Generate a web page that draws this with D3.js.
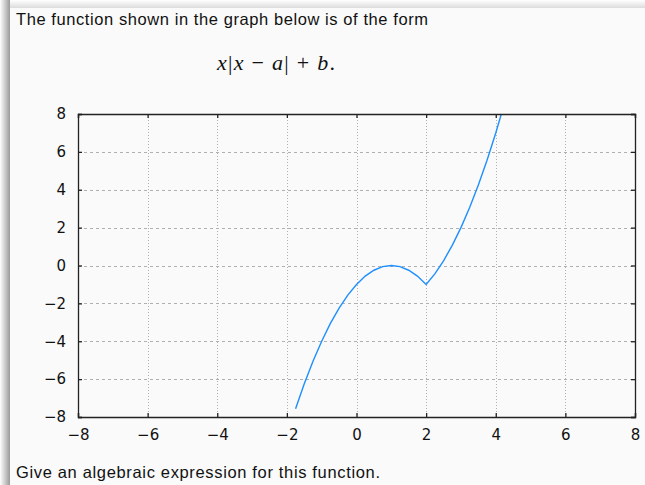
<!DOCTYPE html>
<html>
<head>
<meta charset="utf-8">
<script src="https://cdn.jsdelivr.net/npm/d3@7"></script>
<style>
  html, body { margin: 0; padding: 0; background: #ffffff; }
  svg { display: block; }
</style>
</head>
<body>
<svg id="chart" width="645" height="485"></svg>
<script>
// Sampled points of the plotted curve y = x|x - 2| - 1
const curveX = [-1.75, -1.5, -1.25, -1, -0.75, -0.5, -0.25, 0, 0.25, 0.5, 0.75, 1,
                1.25, 1.5, 1.75, 2, 2.25, 2.5, 2.75, 3, 3.25, 3.5, 3.75, 4, 4.16];
const curveY = [-7.56, -6.25, -5.06, -4, -3.06, -2.25, -1.56, -1, -0.56, -0.25, -0.06, 0,
                -0.06, -0.25, -0.56, -1, -0.44, 0.25, 1.06, 2, 3.06, 4.25, 5.56, 7, 8];
const xTicks = [-8, -6, -4, -2, 0, 2, 4, 6, 8];
const yTicks = [-8, -6, -4, -2, 0, 2, 4, 6, 8];

const svg = d3.select("#chart");
const defs = svg.append("defs");

// panel shadows on the left and top edges
const gl = defs.append("linearGradient").attr("id", "shadeL").attr("x1", 0).attr("x2", 1).attr("y1", 0).attr("y2", 0);
gl.append("stop").attr("offset", "0%").attr("stop-color", "#ffffff");
gl.append("stop").attr("offset", "100%").attr("stop-color", "#9a9a9a");
const gt = defs.append("linearGradient").attr("id", "shadeT").attr("x1", 0).attr("x2", 0).attr("y1", 0).attr("y2", 1);
gt.append("stop").attr("offset", "0%").attr("stop-color", "#ffffff");
gt.append("stop").attr("offset", "100%").attr("stop-color", "#dcdcdc");

svg.append("rect").attr("x", 0).attr("y", 0).attr("width", 645).attr("height", 485).attr("fill", "#ffffff");
svg.append("rect").attr("x", 10).attr("y", 0).attr("width", 635).attr("height", 8).attr("fill", "url(#shadeT)");
svg.append("rect").attr("x", 0).attr("y", 0).attr("width", 10).attr("height", 485).attr("fill", "url(#shadeL)");
svg.append("rect").attr("x", 10).attr("y", 8).attr("width", 635).attr("height", 477).attr("fill", "#fafafa");

// texts
svg.append("text").attr("x", 16).attr("y", 25)
  .attr("font-family", "Liberation Sans, Arial, sans-serif").attr("font-size", 16.5)
  .attr("fill", "#111").attr("textLength", 412).attr("lengthAdjust", "spacing")
  .text("The function shown in the graph below is of the form");

const formula = svg.append("text").attr("x", 276).attr("y", 70).attr("text-anchor", "middle")
  .attr("font-family", "Liberation Serif, DejaVu Serif, serif").attr("font-size", 22).attr("fill", "#111")
  .attr("textLength", 118).attr("lengthAdjust", "spacing");
formula.append("tspan").attr("font-style", "italic").text("x");
formula.append("tspan").text("|");
formula.append("tspan").attr("font-style", "italic").text("x");
formula.append("tspan").text(" − ");
formula.append("tspan").attr("font-style", "italic").text("a");
formula.append("tspan").text("| + ");
formula.append("tspan").attr("font-style", "italic").text("b");
formula.append("tspan").text(".");

svg.append("text").attr("x", 16).attr("y", 478)
  .attr("font-family", "Liberation Sans, Arial, sans-serif").attr("font-size", 16.5)
  .attr("fill", "#111").attr("textLength", 364).attr("lengthAdjust", "spacing")
  .text("Give an algebraic expression for this function.");

// plot
const L = 78, R = 635, T = 114, B = 417;
const x = d3.scaleLinear().domain([-8, 8]).range([L, R]);
const y = d3.scaleLinear().domain([-8, 8]).range([B, T]);

const plot = svg.append("g");
plot.append("rect").attr("x", L).attr("y", T).attr("width", R - L).attr("height", B - T).attr("fill", "#fafafa");

// grid
plot.selectAll(".vg").data(xTicks.slice(1, -1)).join("line")
  .attr("x1", d => Math.round(x(d)) + 0.5).attr("x2", d => Math.round(x(d)) + 0.5)
  .attr("y1", T).attr("y2", B)
  .attr("stroke", "#b0b0b0").attr("stroke-width", 1).attr("stroke-dasharray", "1,2");
plot.selectAll(".hg").data(yTicks.slice(1, -1)).join("line")
  .attr("y1", d => Math.round(y(d)) + 0.5).attr("y2", d => Math.round(y(d)) + 0.5)
  .attr("x1", L).attr("x2", R)
  .attr("stroke", "#b0b0b0").attr("stroke-width", 1).attr("stroke-dasharray", "3,3");

// axes with inward ticks on all four sides
const fmt = d => d < 0 ? "\u2212" + Math.abs(d) : String(d);
const axB = svg.append("g").attr("transform", `translate(0,${B})`)
  .call(d3.axisBottom(x).tickValues(xTicks).tickSize(-4).tickPadding(12).tickFormat(fmt));
const axL = svg.append("g").attr("transform", `translate(${L},0)`)
  .call(d3.axisLeft(y).tickValues(yTicks).tickSize(-4).tickPadding(12).tickFormat(fmt));
const axT = svg.append("g").attr("transform", `translate(0,${T})`)
  .call(d3.axisTop(x).tickValues(xTicks).tickSize(-4).tickFormat(""));
const axR = svg.append("g").attr("transform", `translate(${R},0)`)
  .call(d3.axisRight(y).tickValues(yTicks).tickSize(-4).tickFormat(""));
[axB, axL, axT, axR].forEach(a => {
  a.attr("font-size", 15).attr("font-family", "DejaVu Sans, sans-serif");
  a.select(".domain").attr("stroke", "#222").attr("stroke-width", 1.3);
  a.selectAll(".tick line").attr("stroke", "#222").attr("stroke-width", 1.3);
  a.selectAll("text").attr("fill", "#111");
});

// curve
plot.append("path")
  .datum(curveX.map((d, i) => [d, curveY[i]]))
  .attr("fill", "none").attr("stroke", "#1e8fff").attr("stroke-width", 1.4)
  .attr("d", d3.line().x(d => x(d[0])).y(d => y(d[1])));
</script>
</body>
</html>
